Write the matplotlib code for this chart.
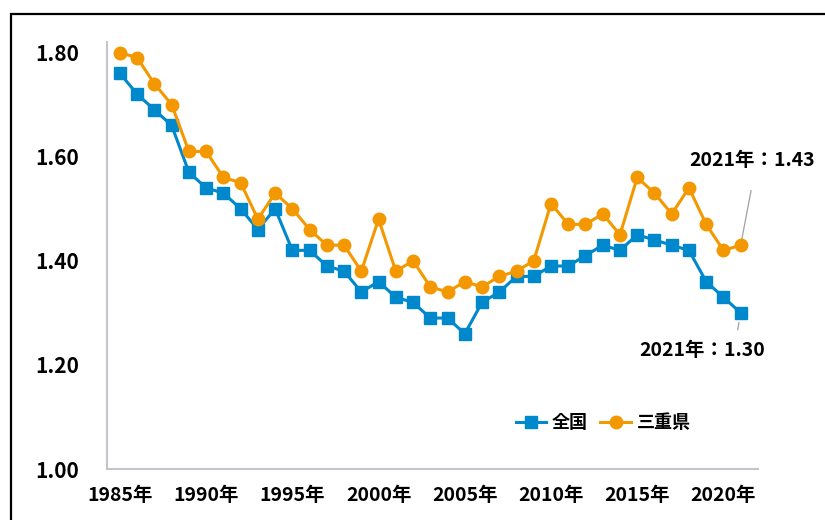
import matplotlib
matplotlib.use("Agg")
import matplotlib.pyplot as plt
from matplotlib.patches import Rectangle
from matplotlib.lines import Line2D

FONT = ["Liberation Sans Narrow", "Noto Sans CJK JP", "DejaVu Sans"]
plt.rcParams["font.family"] = FONT

years = list(range(1985, 2022))
national = [1.76, 1.72, 1.69, 1.66, 1.57, 1.54, 1.53, 1.50, 1.46, 1.50,
            1.42, 1.42, 1.39, 1.38, 1.34, 1.36, 1.33, 1.32, 1.29, 1.29,
            1.26, 1.32, 1.34, 1.37, 1.37, 1.39, 1.39, 1.41, 1.43, 1.42,
            1.45, 1.44, 1.43, 1.42, 1.36, 1.33, 1.30]
mie = [1.80, 1.79, 1.74, 1.70, 1.61, 1.61, 1.56, 1.55, 1.48, 1.53,
       1.50, 1.46, 1.43, 1.43, 1.38, 1.48, 1.38, 1.40, 1.35, 1.34,
       1.36, 1.35, 1.37, 1.38, 1.40, 1.51, 1.47, 1.47, 1.49, 1.45,
       1.56, 1.53, 1.49, 1.54, 1.47, 1.42, 1.43]
xtick_years = [1985, 1990, 1995, 2000, 2005, 2010, 2015, 2020]
yticks = [1.00, 1.20, 1.40, 1.60, 1.80]

BLUE = "#0088cc"
ORANGE = "#f39800"
AXIS_GRAY = "#c4c4cc"

fig = plt.figure(figsize=(8.25, 5.2), dpi=100)
ax = fig.add_axes([0.1297, 0.098, 0.789, 0.821])

ax.plot(years, national, color=BLUE, lw=2.2, marker="s", ms=8, zorder=3)
ax.plot(years, mie, color=ORANGE, lw=2.2, marker="o", ms=9, zorder=4)

ax.set_xlim(1984.25, 2022)
ax.set_ylim(1.0, 1.82)
ax.set_xticks(xtick_years)
ax.set_xticklabels([f"{y}年" for y in xtick_years], fontsize=14, fontweight="bold")
ax.set_yticks(yticks)
ax.set_yticklabels([f"{v:.2f}" for v in yticks], fontsize=15, fontweight="bold")
ax.tick_params(axis="x", length=0, pad=12)
ax.tick_params(axis="y", length=0, pad=20)

for side in ["top", "right"]:
    ax.spines[side].set_visible(False)
for side in ["left", "bottom"]:
    ax.spines[side].set_color(AXIS_GRAY)
    ax.spines[side].set_linewidth(1.5)

# callouts for the latest year
ax.annotate(f"{years[-1]}年：{mie[-1]:.2f}", xy=(years[-1], mie[-1]),
            xytext=(8.5, 61), textcoords="offset points",
            ha="center", va="center", fontsize=14, fontweight="bold",
            arrowprops=dict(arrowstyle="-", color="#a0a0a8", lw=0.9,
                            relpos=(0.52, 0), shrinkA=13, shrinkB=4))
ax.annotate(f"{years[-1]}年：{national[-1]:.2f}", xy=(years[-1], national[-1]),
            xytext=(-28, -27), textcoords="offset points",
            ha="center", va="center", fontsize=14, fontweight="bold",
            arrowprops=dict(arrowstyle="-", color="#a0a0a8", lw=0.9,
                            relpos=(0.77, 1), shrinkA=6, shrinkB=7))

handles = [
    Line2D([], [], color=BLUE, lw=2.2, marker="s", ms=8),
    Line2D([], [], color=ORANGE, lw=2.2, marker="o", ms=9),
]
ax.legend(handles, ["全国", "三重県"], loc="center", bbox_to_anchor=(0.762, 0.108),
          ncol=2, frameon=False, fontsize=13, handlelength=1.7,
          handletextpad=0.3, columnspacing=0.7, prop=dict(family=FONT, size=13, weight="bold"))

# outer frame that runs off the right and bottom edges
fig.patches.append(Rectangle((0.0133, -0.1), 1.2, 1.073, transform=fig.transFigure,
                             fill=False, edgecolor="black", lw=1.6))

fig.savefig("out.png", dpi=100)
